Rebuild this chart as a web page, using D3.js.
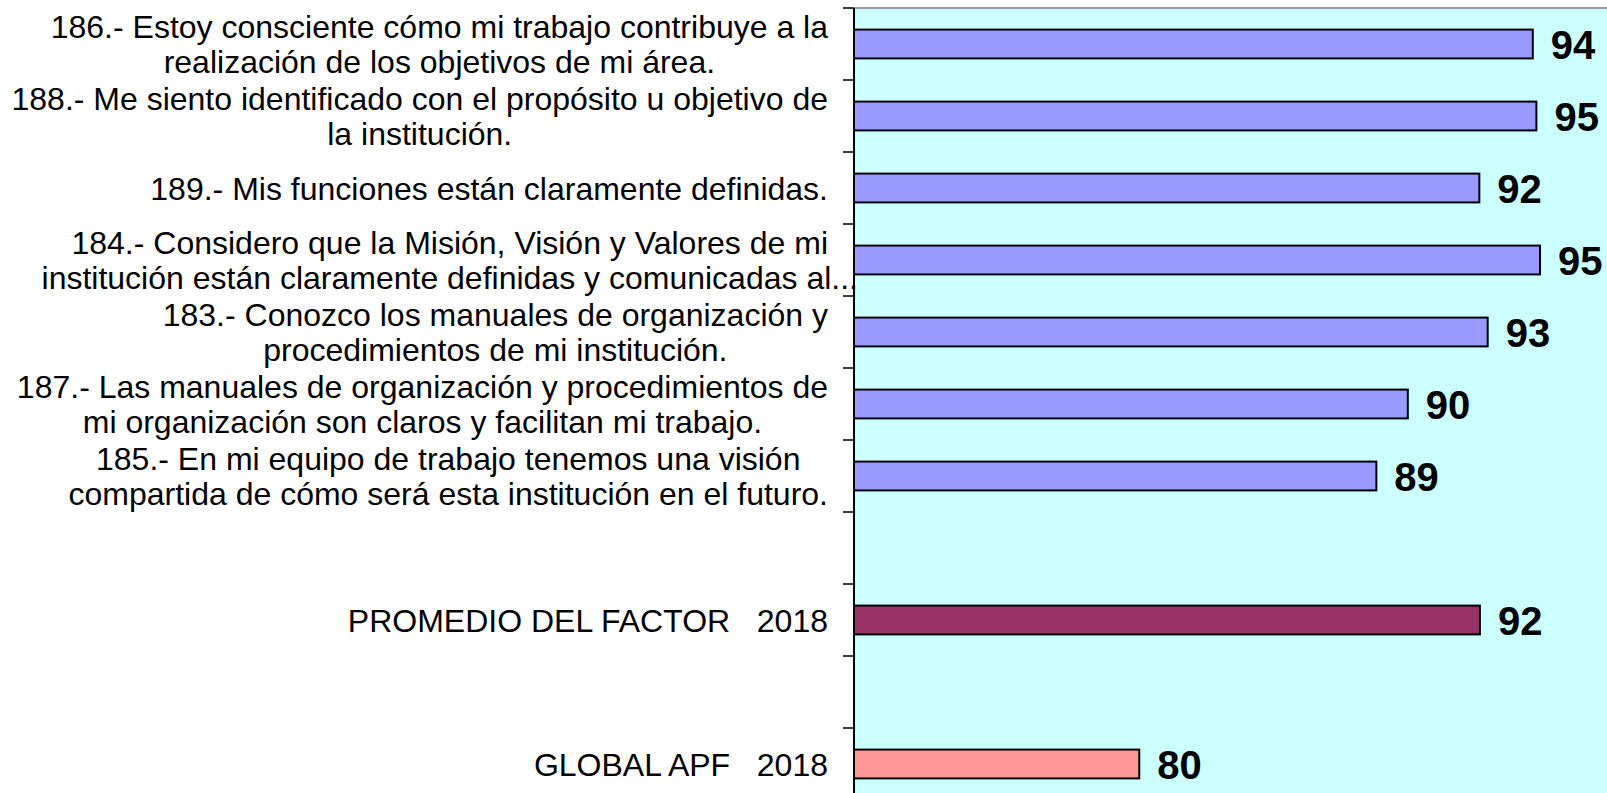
<!DOCTYPE html>
<html>
<head>
<meta charset="utf-8">
<script src="https://cdn.jsdelivr.net/npm/d3@7"></script>
<style>
  body { margin: 0; background: #fff; }
  svg { display: block; }
</style>
</head>
<body>
<div id="chart"></div>
<script>
// reactivos (orden de la grafica, de arriba hacia abajo)
const items = [
  "186.- Estoy consciente cómo mi trabajo contribuye a la\nrealización de los objetivos de mi área.",
  "188.- Me siento identificado con el propósito u objetivo de\nla institución.",
  "189.- Mis funciones están claramente definidas.",
  "184.- Considero que la Misión, Visión y Valores de mi\ninstitución están claramente definidas y comunicadas al...",
  "183.- Conozco los manuales de organización y\nprocedimientos de mi institución.",
  "187.- Las manuales de organización y procedimientos de\nmi organización son claros y facilitan mi trabajo.",
  "185.- En mi equipo de trabajo tenemos una visión\ncompartida de cómo será esta institución en el futuro."
];
const itemValues = [94.39, 94.52, 92.47, 94.65, 92.77, 89.90, 88.77];

const summaryLabels = ["PROMEDIO DEL FACTOR\u00a0\u00a0\u00a02018", "GLOBAL APF\u00a0\u00a0\u00a02018"];
const summaryValues = [92.49, 80.25];

const xDomain = [70, 100];

const W = 1607, H = 793;
const axisX = 854;
const plotTop = 8;
const step = 72;

// filas: 7 reactivos, hueco, promedio, hueco, global
const rows = items.map((t, i) => ({key: t, label: t, value: itemValues[i], fill: "#9999ff"}));
rows.push({key: "gap1"});
rows.push({key: summaryLabels[0], label: summaryLabels[0], value: summaryValues[0], fill: "#993366"});
rows.push({key: "gap2"});
rows.push({key: summaryLabels[1], label: summaryLabels[1], value: summaryValues[1], fill: "#ff9999"});

const y = d3.scaleBand()
  .domain(rows.map(d => d.key))
  .range([plotTop, plotTop + step * rows.length])
  .paddingInner(0.6)
  .paddingOuter(0.3);

const x = d3.scaleLinear()
  .domain(xDomain)
  .range([axisX, axisX + 27.83 * (xDomain[1] - xDomain[0])]);

const svg = d3.select("#chart")
  .append("svg")
  .attr("width", W)
  .attr("height", H);

// area de trazado
svg.append("rect")
  .attr("x", axisX)
  .attr("y", plotTop)
  .attr("width", W - axisX + 20)
  .attr("height", H)
  .attr("fill", "#ccffff");

svg.append("line")
  .attr("x1", axisX).attr("x2", W)
  .attr("y1", plotTop).attr("y2", plotTop)
  .attr("stroke", "#9a9a9a")
  .attr("stroke-width", 2);

// barras
const data = rows.filter(d => d.value != null);

svg.append("g")
  .selectAll("rect")
  .data(data)
  .enter()
  .append("rect")
  .attr("x", x(xDomain[0]))
  .attr("y", d => y(d.key))
  .attr("width", d => x(d.value) - x(xDomain[0]))
  .attr("height", y.bandwidth())
  .attr("fill", d => d.fill)
  .attr("stroke", "#000")
  .attr("stroke-width", 2);

// etiquetas de valor
svg.append("g")
  .selectAll("text")
  .data(data)
  .enter()
  .append("text")
  .attr("x", d => x(d.value) + 18)
  .attr("y", d => y(d.key) + y.bandwidth() / 2)
  .attr("dy", "0.37em")
  .attr("font-family", "'Liberation Sans', Arial, sans-serif")
  .attr("font-weight", "bold")
  .attr("font-size", 40)
  .attr("fill", "#000")
  .text(d => d3.format(".0f")(d.value));

// etiquetas de categoria
const labelRight = 828;
const lineH = 34.8;
const labels = svg.append("g")
  .attr("font-family", "'Liberation Sans', Arial, sans-serif")
  .attr("font-size", 32)
  .attr("fill", "#000");

data.forEach(d => {
  const lines = d.label.split("\n");
  const cy = y(d.key) + y.bandwidth() / 2;
  const t = labels.append("text").attr("text-anchor", "middle");
  const spans = lines.map((ln, i) => t.append("tspan")
    .attr("y", cy + (i - (lines.length - 1) / 2) * lineH)
    .attr("dy", "0.37em")
    .text(ln));
  // ancho del bloque: linea mas ancha que no esta truncada
  const widths = spans.map(s => s.node().getComputedTextLength());
  const full = widths.filter((w, i) => !lines[i].endsWith("..."));
  const blockW = d3.max(full.length ? full : widths);
  const cx = labelRight - blockW / 2;
  spans.forEach(s => s.attr("x", cx));
});

// eje vertical con marcas entre categorias
const bounds = d3.range(rows.length + 1).map(i => plotTop + i * y.step());
svg.append("g")
  .selectAll("line")
  .data(bounds)
  .enter()
  .append("line")
  .attr("x1", axisX - 11)
  .attr("x2", axisX)
  .attr("y1", d => d)
  .attr("y2", d => d)
  .attr("stroke", "#000")
  .attr("stroke-width", 1.5);

svg.append("line")
  .attr("x1", axisX).attr("x2", axisX)
  .attr("y1", plotTop).attr("y2", H)
  .attr("stroke", "#000")
  .attr("stroke-width", 2);
</script>
</body>
</html>
